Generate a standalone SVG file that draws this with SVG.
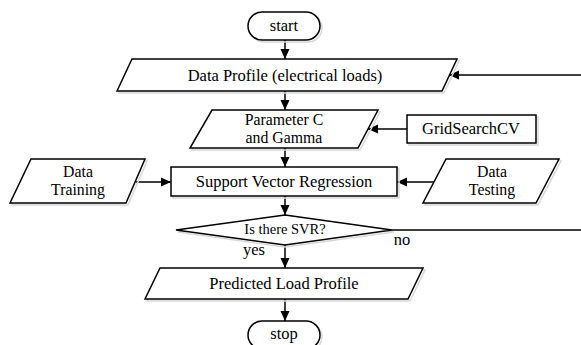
<svg xmlns="http://www.w3.org/2000/svg" width="581" height="345" viewBox="0 0 581 345">
<style>
.s{fill:#fff;stroke:#000;stroke-width:1.5}
.sh{fill:none;stroke:#d8d8d8;stroke-width:1.5}
text{font-family:'Liberation Serif','Times New Roman','DejaVu Serif',serif;font-size:16.5px;fill:#000;text-anchor:middle}
.sm{font-size:14.5px}
.two{font-size:15.8px}
.c{fill:none;stroke:#000;stroke-width:1.5}
</style>
<defs>
<marker id="ah" markerUnits="userSpaceOnUse" markerWidth="10" markerHeight="10" refX="10" refY="5" orient="auto">
<path d="M0,0.5 L10,5 L0,9.5 z" fill="#000"/>
</marker>
</defs>
<rect width="581" height="345" fill="#fff"/>
<g id="connectors">
<path class="c" d="M285,40 V59" marker-end="url(#ah)"/>
<path class="c" d="M285,91 V110" marker-end="url(#ah)"/>
<path class="c" d="M407,129 H368" marker-end="url(#ah)"/>
<path class="c" d="M285,148 V167" marker-end="url(#ah)"/>
<path class="c" d="M136,182 H171" marker-end="url(#ah)"/>
<path class="c" d="M434,182 H397" marker-end="url(#ah)"/>
<path class="c" d="M285,196 V215" marker-end="url(#ah)"/>
<path class="c" d="M285,245 V268" marker-end="url(#ah)"/>
<path class="c" d="M285,299 V321" marker-end="url(#ah)"/>
<path class="c" d="M392,230 H581"/>
<path class="c" d="M581,75 H449" marker-end="url(#ah)"/>
<text x="402" y="245">no</text>
<text x="254" y="255">yes</text>
</g>
<g id="start">
<rect class="sh" x="250" y="14" width="72" height="28" rx="14"/>
<rect class="s" x="248" y="12" width="72" height="28" rx="14"/>
<text x="284" y="31">start</text>
</g>
<g id="data-profile">
<polygon class="sh" points="134,61 459,61 444,93 119,93"/>
<polygon class="s" points="132,59 457,59 442,91 117,91"/>
<text x="285" y="81">Data Profile (electrical loads)</text>
</g>
<g id="parameter">
<polygon class="sh" points="214,112 380,112 360,150 192,150"/>
<polygon class="s" points="212,110 378,110 358,148 190,148"/>
<text class="two" x="284" y="125">Parameter C</text>
<text class="two" x="284" y="142.5">and Gamma</text>
</g>
<g id="gridsearch">
<rect class="sh" x="409" y="117" width="129" height="28"/>
<rect class="s" x="407" y="115" width="129" height="28"/>
<text x="471" y="134">GridSearchCV</text>
</g>
<g id="svr">
<rect class="sh" x="173" y="169" width="226" height="29"/>
<rect class="s" x="171" y="167" width="226" height="29"/>
<text x="284" y="187">Support Vector Regression</text>
</g>
<g id="data-training">
<polygon class="sh" points="33,161 147,161 128,205 12,205"/>
<polygon class="s" points="31,159 145,159 126,203 10,203"/>
<text class="two" x="78" y="177">Data</text>
<text class="two" x="78" y="194.5">Training</text>
</g>
<g id="data-testing">
<polygon class="sh" points="448,161 561,161 538,205 425,205"/>
<polygon class="s" points="446,159 559,159 536,203 423,203"/>
<text class="two" x="492" y="177">Data</text>
<text class="two" x="492" y="194.5">Testing</text>
</g>
<g id="decision">
<polygon class="sh" points="285,217 394,232 285,247 178,232"/>
<polygon class="s" points="285,215 392,230 285,245 176,230"/>
<text class="sm" x="285" y="234">Is there SVR?</text>
</g>
<g id="predicted">
<polygon class="sh" points="162,270 425,270 410,301 147,301"/>
<polygon class="s" points="160,268 423,268 408,299 145,299"/>
<text x="284" y="289">Predicted Load Profile</text>
</g>
<g id="stop">
<rect class="sh" x="250" y="323" width="72" height="28" rx="14"/>
<rect class="s" x="248" y="321" width="72" height="28" rx="14"/>
<text x="284" y="339">stop</text>
</g>
</svg>
